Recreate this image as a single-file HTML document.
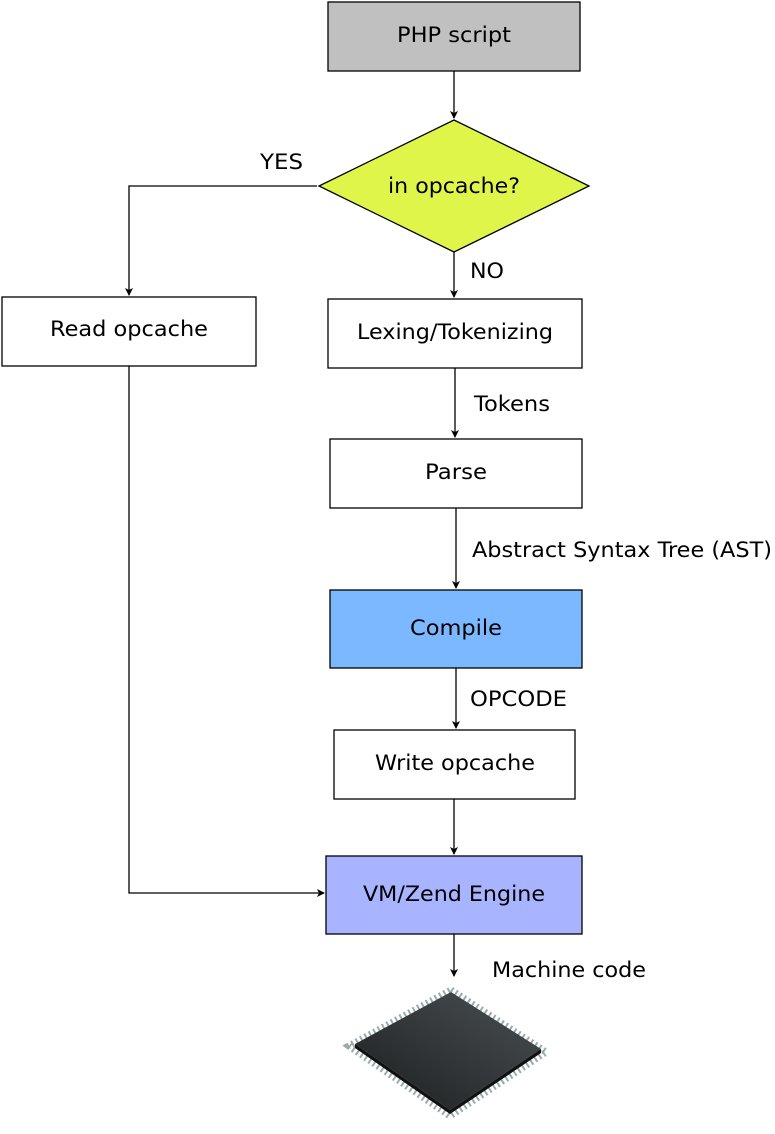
<!DOCTYPE html>
<html><head><style>
html,body{margin:0;padding:0;background:#fff;}
svg{display:block;}
</style></head><body>
<svg width="775" height="1134" viewBox="0 0 775 1134" xmlns="http://www.w3.org/2000/svg">
<defs>
<marker id="a" markerWidth="8" markerHeight="8" refX="7" refY="4" orient="auto" markerUnits="userSpaceOnUse">
<path d="M0,0 L8,4 L0,8 L2,4 Z" fill="#000"/></marker>
<linearGradient id="g" x1="0" y1="1" x2="1" y2="0"><stop offset="0" stop-color="#1c1e1f"/><stop offset="1" stop-color="#4a5053"/></linearGradient>
</defs>
<g stroke="#000" stroke-width="1.3" fill="none">
<rect x="328" y="2" width="252" height="69" fill="#c0c0c0"/>
<polygon points="454,120 589,186 454,252 319,186" fill="#e0f54a"/>
<rect x="2" y="297" width="254" height="69" fill="#fff"/>
<rect x="328" y="299" width="254" height="69" fill="#fff"/>
<rect x="330" y="439" width="252" height="69" fill="#fff"/>
<rect x="330" y="590" width="252" height="78" fill="#7cb8ff"/>
<rect x="334" y="730" width="241" height="69" fill="#fff"/>
<rect x="326" y="856" width="256" height="78" fill="#a8b4ff"/>
<path d="M454,71 V118" marker-end="url(#a)"/>
<path d="M317,186 H129 V295" marker-end="url(#a)"/>
<path d="M454,252 V297" marker-end="url(#a)"/>
<path d="M455,368 V437" marker-end="url(#a)"/>
<path d="M456,508 V588" marker-end="url(#a)"/>
<path d="M456,668 V728" marker-end="url(#a)"/>
<path d="M454,799 V854" marker-end="url(#a)"/>
<path d="M129,366 V893 H324" marker-end="url(#a)"/>
<path d="M454,934 V976" marker-end="url(#a)"/>
</g>
<g>
<polygon points="451,990 546,1052 450,1116 349,1046" fill="none" stroke="#9aa" stroke-width="7" stroke-dasharray="2 3"/>
<polygon points="451,992 541,1049 450,1110 355,1044" fill="url(#g)"/>
<polygon points="355,1044 450,1110 541,1049 541,1053 450,1114 355,1048" fill="#111"/>
</g>
<g font-family="DejaVu Sans, Liberation Sans, sans-serif" font-size="21" fill="#000">
<text x="397" y="42" textLength="114" lengthAdjust="spacingAndGlyphs">PHP script</text>
<text x="388" y="193" textLength="132" lengthAdjust="spacingAndGlyphs">in opcache?</text>
<text x="50" y="336" textLength="158" lengthAdjust="spacingAndGlyphs">Read opcache</text>
<text x="357" y="339" textLength="196" lengthAdjust="spacingAndGlyphs">Lexing/Tokenizing</text>
<text x="425" y="479" textLength="62" lengthAdjust="spacingAndGlyphs">Parse</text>
<text x="410" y="635" textLength="92" lengthAdjust="spacingAndGlyphs">Compile</text>
<text x="375" y="770" textLength="160" lengthAdjust="spacingAndGlyphs">Write opcache</text>
<text x="363" y="901" textLength="182" lengthAdjust="spacingAndGlyphs">VM/Zend Engine</text>
<text x="260" y="169" textLength="43" lengthAdjust="spacingAndGlyphs">YES</text>
<text x="470" y="278" textLength="34" lengthAdjust="spacingAndGlyphs">NO</text>
<text x="474" y="411" textLength="76" lengthAdjust="spacingAndGlyphs">Tokens</text>
<text x="472" y="557" textLength="300" lengthAdjust="spacingAndGlyphs">Abstract Syntax Tree (AST)</text>
<text x="470" y="706" textLength="97" lengthAdjust="spacingAndGlyphs">OPCODE</text>
<text x="492" y="977" textLength="154" lengthAdjust="spacingAndGlyphs">Machine code</text>
</g>
</svg>
</body></html>
